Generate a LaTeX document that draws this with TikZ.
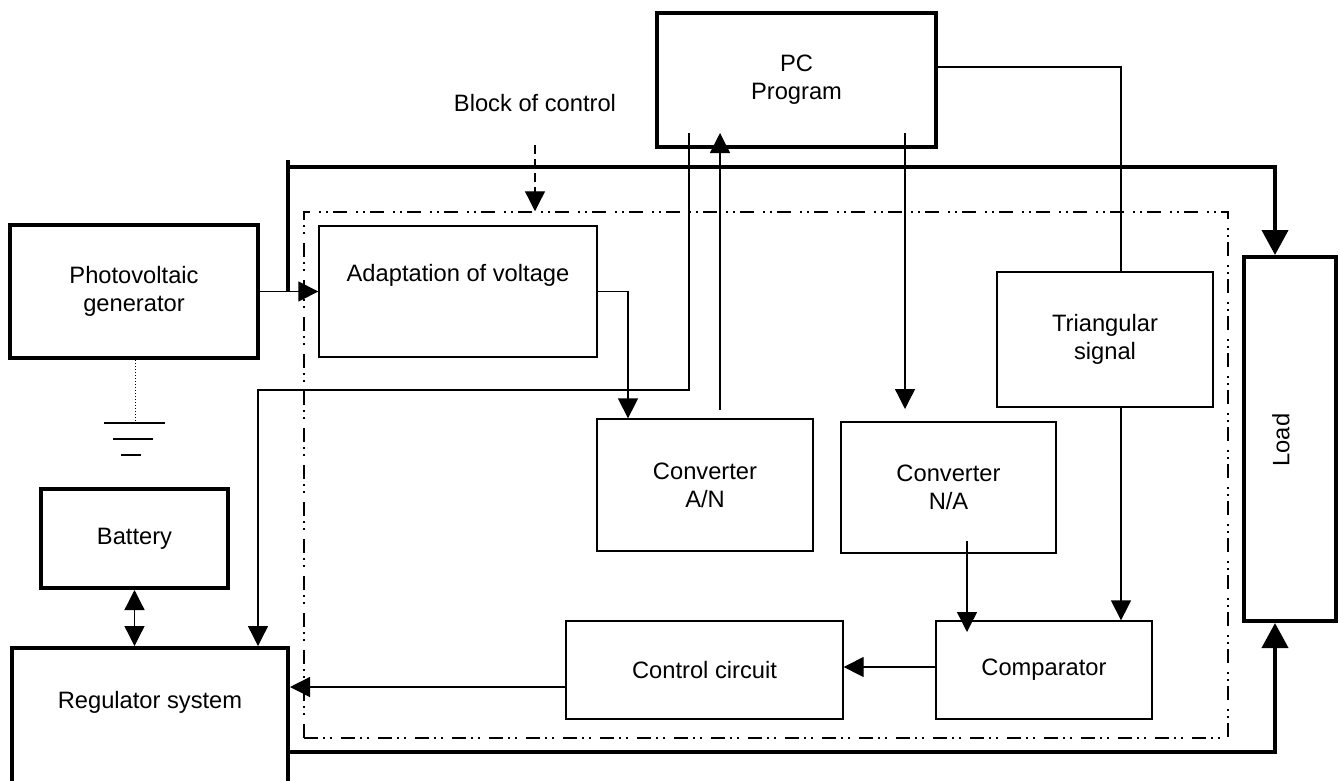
\documentclass[tikz,border=0pt]{standalone}
\usepackage{fontspec}
\setmainfont{Liberation Sans}
\usetikzlibrary{arrows.meta,calc}
\tikzset{
  blk/.style={draw, line width=1.3pt, inner sep=0pt, align=center},
  thickblk/.style={blk, line width=4pt},
  ln/.style={line width=1.3pt},
  arrowline/.style={ln, -{Triangle[length=20pt,width=20pt]}},
  dblarrow/.style={ln, {Triangle[length=20pt,width=20pt]}-{Triangle[length=20pt,width=20pt]}},
  thickline/.style={line width=4pt},
  thickarrow/.style={thickline, -{Triangle[length=25pt,width=26pt]}},
  dasharrow/.style={ln, dash pattern=on 9pt off 5pt, -{Triangle[length=20pt,width=20pt]}},
  frame/.style={draw, line width=1.5pt, dash pattern=on 14pt off 5pt on 2pt off 5pt on 2pt off 9pt, inner sep=0pt},
  gnd/.style={line width=1.5pt},
}
\begin{document}
\begin{tikzpicture}[x=1pt,y=-1pt,font=\fontsize{23.7}{28}\selectfont]
\useasboundingbox (0,0) rectangle (1340,780);
\clip (0,0) rectangle (1340,780);

% control block frame
\node[frame, minimum width=924pt, minimum height=526pt] (ctl) at (766,475) {};
\node (lbl) at (535,103) {Block of control};

% boxes
\node[thickblk, minimum width=279pt, minimum height=134pt] (pc) at (796.5,80) {PC\\Program};
\node[thickblk, minimum width=248pt, minimum height=133pt] (pv) at (134,291.5) {Photovoltaic\\generator};
\node[blk, minimum width=278pt, minimum height=131pt] (adapt) at (458,291.5) {Adaptation of voltage\\\strut};
\node[blk, minimum width=216pt, minimum height=132pt] (ana) at (705,485) {Converter\\A/N};
\node[blk, minimum width=215pt, minimum height=131pt] (nac) at (948.5,487.5) {Converter\\N/A};
\node[blk, minimum width=216pt, minimum height=135pt] (tri) at (1105,339.5) {Triangular\\signal};
\node[blk, minimum width=216pt, minimum height=98pt] (comp) at (1044,670) {Comparator};
\node[blk, minimum width=277pt, minimum height=98pt] (ctrl) at (704.5,670) {Control circuit};
\node[thickblk, minimum width=276pt, minimum height=160pt] (reg) at (150,728) {};
\node (regtxt) at (150,702) {Regulator system};
\node[thickblk, minimum width=187pt, minimum height=99pt] (bat) at (134.5,538.5) {Battery};
\node[thickblk, minimum width=92pt, minimum height=364pt] (load) at (1290,439) {};
\node[rotate=90] (loadtxt) at (1281,440) {Load};

% helper coordinates
\coordinate (j1) at (288,291.5);
\coordinate (jtop) at (288,160);
\coordinate (bus) at (288,167);
\coordinate (ld) at (1275,0);
\coordinate (yb) at (0,752);
\coordinate (xa) at (628,0);
\coordinate (c1) at (720,410);
\coordinate (pcin) at (0,133);
\coordinate (a1) at (689,133);
\coordinate (a2) at (258,390);
\coordinate (b1) at (905,133);
\coordinate (b2) at (905,409);
\coordinate (t1) at (1121,67);
\coordinate (n1) at (967,541);
\coordinate (n2) at (967,632);
\coordinate (y667) at (0,667);
\coordinate (y687) at (0,687);
\coordinate (k1) at (535,145);
\coordinate (g0) at (135,423);

% power connections
\draw[arrowline] (pv.east) -- (adapt.west);
\draw[thickline] (jtop) -- (j1);
\draw[thickarrow] (bus) -| (load.north -| ld);
\draw[thickarrow] (reg.east |- yb) -| (load.south -| ld);

% signal connections
\draw[arrowline] (adapt.east) -| (xa |- ana.north);
\draw[arrowline] (c1) -- (c1 |- pcin);
\draw[arrowline] (a1) |- (a2) -- (a2 |- reg.north);
\draw[arrowline] (b1) -- (b2);
\draw[ln] (pc.east |- t1) -- (t1) -- (t1 |- tri.north);
\draw[arrowline] (t1 |- tri.south) -- (t1 |- comp.north);
\draw[arrowline] (n1) -- (n2);
\draw[arrowline] (comp.west |- y667) -- (ctrl.east |- y667);
\draw[arrowline] (ctrl.west |- y687) -- (reg.east |- y687);
\draw[dblarrow] (bat.south) -- (bat.south |- reg.north);
\draw[dasharrow] (k1) -- (k1 |- ctl.north);

% ground
\draw[dotted, line width=1pt] (pv.south -| g0) -- (g0);
\draw[gnd] (104,423) -- (165,423);
\draw[gnd] (113,439) -- (153,439);
\draw[gnd] (121,455) -- (141,455);
\end{tikzpicture}
\end{document}
